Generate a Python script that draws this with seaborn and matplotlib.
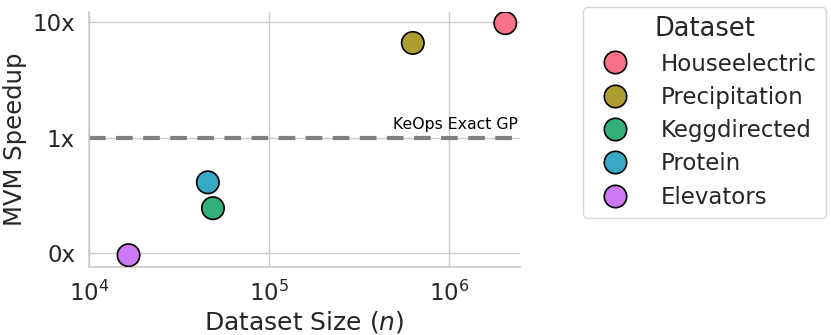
import pandas as pd
import matplotlib.pyplot as plt
import matplotlib.ticker as mticker
import seaborn as sns

sns.set_theme(style="whitegrid")
plt.rcParams['font.family'] = ['DejaVu Sans']

datasets = ["Houseelectric", "Precipitation", "Keggdirected", "Protein", "Elevators"]
sizes = [2049280, 628474, 48827, 45730, 16599]
speedups = [9.8, 6.6, 0.245, 0.41, 0.096]

df = pd.DataFrame({"Dataset": datasets, "n": sizes, "speedup": speedups})
palette = sns.color_palette("husl", len(datasets))

fig, ax = plt.subplots(figsize=(8.31, 3.35), dpi=100)
fig.subplots_adjust(left=0.107, right=0.626, top=0.964, bottom=0.203)

ax.axhline(1.0, color="gray", linestyle="--", linewidth=3, dashes=(4, 2.5), zorder=1)
ax.text(0.995, 1.12, "KeOps Exact GP", transform=ax.get_yaxis_transform(),
        ha="right", va="bottom", fontsize=11.3, color="black")

sns.scatterplot(data=df, x="n", y="speedup", hue="Dataset", hue_order=datasets,
                palette=palette, s=260, edgecolor="black", linewidth=1.2,
                ax=ax, zorder=3)

ax.set_xscale("log")
ax.set_yscale("log")
ax.set_xlim(1e4, 2.48e6)
ax.set_ylim(10 ** -1.12, 10 ** 1.087)
ax.set_yticks([0.1, 1, 10])
ax.yaxis.set_major_formatter(mticker.FuncFormatter(lambda v, p: f"{v:.0f}x"))
ax.yaxis.set_minor_locator(mticker.NullLocator())
ax.xaxis.set_minor_locator(mticker.NullLocator())
ax.tick_params(axis="both", labelsize=16.5, pad=4)

ax.set_xlabel("Dataset Size ($n$)", fontsize=18, labelpad=2)
ax.set_ylabel("MVM Speedup", fontsize=17.5)
sns.despine(ax=ax, top=True, right=True)

handles, labels = ax.get_legend_handles_labels()
ax.get_legend().remove()
fig.legend(handles, labels, title="Dataset", loc="upper left",
           bbox_to_anchor=(0.7016, 0.979), borderaxespad=0,
           fontsize=16.5, title_fontsize=18.5,
           markerscale=1.0, frameon=True, handletextpad=1.0, borderpad=0.4,
           labelspacing=0.45)

plt.savefig("out.png", dpi=100)
